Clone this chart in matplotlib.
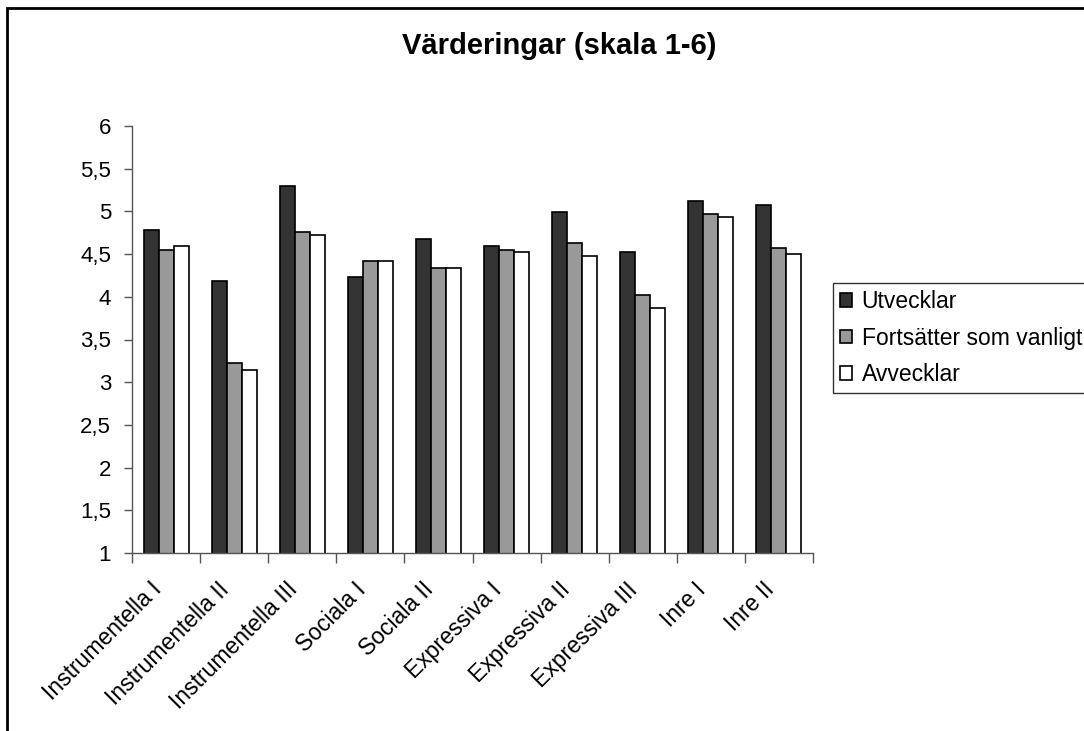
import matplotlib
matplotlib.use("Agg")
import matplotlib.pyplot as plt
import numpy as np
from matplotlib.patches import Rectangle

plt.rcParams["font.family"] = ["Liberation Sans", "DejaVu Sans"]

#====================DATA====================

categories = ["Instrumentella I", "Instrumentella II", "Instrumentella III",
              "Sociala I", "Sociala II", "Expressiva I", "Expressiva II",
              "Expressiva III", "Inre I", "Inre II"]
utvecklar = [4.78, 4.19, 5.30, 4.23, 4.68, 4.59, 4.99, 4.52, 5.12, 5.07]
fortsatter = [4.55, 3.23, 4.76, 4.42, 4.34, 4.55, 4.63, 4.02, 4.97, 4.57]
avvecklar = [4.59, 3.14, 4.72, 4.42, 4.34, 4.52, 4.48, 3.87, 4.94, 4.50]
series_names = ["Utvecklar", "Fortsätter som vanligt", "Avvecklar"]
y_ticks = [1, 1.5, 2, 2.5, 3, 3.5, 4, 4.5, 5, 5.5, 6]

#====================PLOT====================

W, H = 1084, 731
fig = plt.figure(figsize=(W / 100, H / 100), dpi=100)
ax = fig.add_axes([132 / W, 1 - 553 / H, (813 - 132) / W, (553 - 126) / H])

x = np.arange(len(categories))
bw = 0.22
colors = ["#333333", "#999999", "#ffffff"]
for i, (vals, name) in enumerate(zip([utvecklar, fortsatter, avvecklar], series_names)):
    ax.bar(x + (i - 1) * bw, vals, bw, color=colors[i], edgecolor="black",
           linewidth=1.2, label=name)

ax.set_xlim(-0.5, len(categories) - 0.5)
ax.set_ylim(1, 6)
ax.set_yticks(y_ticks)
ax.set_yticklabels([f"{v:g}".replace(".", ",") for v in y_ticks], fontsize=16)
ax.tick_params(axis="y", length=6, width=1, color="#555555", pad=9)

# category labels at centres, tick marks at the boundaries
ax.set_xticks(x)
ax.set_xticklabels(categories, rotation=45, ha="right", fontsize=16.5)
ax.tick_params(axis="x", which="major", length=0, pad=18)
ax.set_xticks(np.arange(len(categories) + 1) - 0.5, minor=True)
ax.tick_params(axis="x", which="minor", length=7, width=1, color="#555555")

for s in ["top", "right"]:
    ax.spines[s].set_visible(False)
for s in ["left", "bottom"]:
    ax.spines[s].set_color("#555555")
    ax.spines[s].set_linewidth(1)

fig.text(559 / W, 1 - 46 / H, "Värderingar (skala 1-6)", ha="center", va="center",
         fontsize=21, fontweight="bold")

leg = fig.legend(loc="upper left", bbox_to_anchor=(833 / W, 1 - 283 / H),
                 fontsize=16.5, frameon=True, fancybox=False, edgecolor="black",
                 handlelength=0.55, handleheight=0.55, handletextpad=0.4,
                 borderpad=0.3, labelspacing=0.6, borderaxespad=0)
leg.get_frame().set_linewidth(1)

# outer chart border
fig.patches.append(Rectangle((7 / W, -0.2), 1.2, 1.2 - 8 / H, transform=fig.transFigure,
                             fill=False, edgecolor="black", linewidth=2))

fig.savefig("out.png", dpi=100)
